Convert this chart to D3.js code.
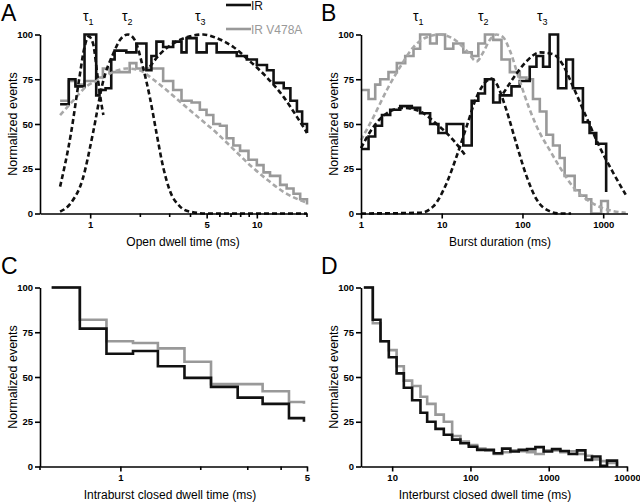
<!DOCTYPE html>
<html>
<head>
<meta charset="utf-8">
<script src="https://cdn.jsdelivr.net/npm/d3@7"></script>
<style>
body { margin: 0; background: #fff; }
svg { font-family: Arial, "Liberation Sans", Helvetica, sans-serif; }
.axis path, .axis line { stroke: #000; stroke-width: 1.6px; }
.axis text { font-size: 9.5px; font-weight: bold; fill: #000; }
</style>
</head>
<body>
<svg width="640" height="504"></svg>
<script>
var black = "#111", gray = "#999";

// ---- A : open dwell time ----
var aEdgesIR = [0.66,0.744,0.816,0.925,1.087,1.138,1.237,1.338,1.402,1.648,1.893,2.175,2.331,2.498,2.741,3.148,3.532,3.786,4.35,5.0,5.74,6.59,7.58,8.71,10,11.5,12.6,14.5,15.9,17.4,18.7,20,20];
var aValsIR  = [61,75,71,100,66,69,70,86,91,90,95,80,88,96,93,96,90,98,90,95,90,90,88,86,83,80,73,70,63,57,50,45];
var aEdgesV  = [0.66,0.744,0.816,0.925,1.087,1.192,1.307,1.726,1.893,2.277,2.741,3.148,3.532,4.06,4.55,4.99,5.48,6.01,6.59,7.23,7.93,8.91,10,10.97,12,13.8,15.1,16.6,18.2,20,20];
var aValsV   = [63,74,72,74,76,81,79,84,81,81,74,69,63,62,58,55,50,49,42,38,35,30,27,23,21,16,14,11,8,5];

var aTau1X = [0.66,0.768,0.862,0.925,0.98,1.04,1.11,1.16,1.2];
var aTau1Y = [15,45,76,93,99,95,76,63,55];
var aTau2X = [0.66,0.768,0.90,1.04,1.19,1.37,1.54,1.69,1.85,2.07,2.28,2.5,2.74,3.0,3.45,3.97,5,20];
var aTau2Y = [1,6,19,45,73,89,98,100,97,82,65,45,26,13,4,1,0,0];
var aTau3X = [2.28,2.62,3.15,3.97,4.77,5.74,7.23,9.1,11.5,14.5,17.4,20];
var aTau3Y = [82,89,95,99,100,98,93,85,76,65,54,45];
var aFitVX = [0.66,0.79,0.95,1.14,1.37,1.65,1.98,2.38,2.87,3.61,4.55,5.74,7.23,9.1,11.5,14.5,20];
var aFitVY = [55,63,71,75,79,81,80,75,69,61,53,45,36,27,19,12,6];

// ---- B : burst duration ----
var bEdgesIR = [1,1.24,1.5,1.82,2.3,3.06,4.26,5.4,7.18,9.1,11.5,13.9,18.5,23.5,28.4,34.3,43.4,52.5,73.1,92.7,123,149,180,217,276,349,422,561,678,820,1088,1088];
var bValsIR  = [36,43,49,55,58,60,59,56,50,45,50,50,38,63,67,75,62,66,71,74,82,88,82,100,70,86,70,51,45,39,12];
var bEdgesV  = [1,1.24,1.5,1.73,2.19,2.78,3.53,4.47,5.4,7.18,8.67,11,13.9,18.5,23.5,28.4,34.3,43.4,55,69.8,92.7,112,135,164,198,239,289,333,443,510,617,711,944,1142,1142];
var bValsV   = [69,64,72,75,79,84,88,92,100,95,100,92,95,90,88,95,100,97,86,79,76,75,64,57,44,38,31,21,13,10,8,0,7,0];

var bTau1X = [1,1.43,2.09,3.36,5.4,8.67,13.9,18.5,20];
var bTau1Y = [36.5,48.5,56,59,57,50,41,34,32];
var bTau2X = [1,5.4,7.87,11.5,15.3,20.3,27,35.9,41.3,47.5,63,84,112,149,217,289,400];
var bTau2Y = [0,0.4,4,17,32,48.5,65,74,75.4,72.6,58,39,21,8,1.3,0,0];
var bTau3X = [57.6,84,112,164,239,317,422,617,907,1320,1900];
var bTau3Y = [67,78,85,90,89,83,71,54,37,23,10.5];
var bFitVX = [1,1.43,2.09,3.06,4.47,6.5,9.53,13.9,20.3,27,32.6,39.4,47.5,57.6,69.8,92.7,123,164,217,289,422,617,990,1900];
var bFitVY = [41,54,69,82,93,98.5,100,97.6,91,85,90,97,100,98.5,91,74,58,45,35.5,26,15,8,3,0.4];

// ---- C : intraburst closed dwell time ----
var cEdges  = [0.553,0.705,0.887,1.115,1.382,1.738,2.185,2.75,3.41,4.28,4.87,4.87];
var cValsIR = [100,77,63,64.5,56,49.5,44.5,38.5,35,27,25];
var cValsV  = [100,82,70,69,66,58.5,46,46,42,36,35];

// ---- D : interburst closed dwell time ----
var dEdges  = [4.35,5.66,7.1,9.06,11.4,14.1,18,23,28,35.8,45.7,58.4,74.5,95.3,122,155,199,254,324,414,529,676,863,1103,1410,1800,2300,2940,3573,4570,5560,7450,7450];
var dValsIR = [100,82,70,61,52,44,37,30,25,21,17.7,15,13,11,9.3,9.3,7.4,10,8.4,9.3,9.7,10.8,8.4,9.7,8.7,7,9,3.7,5.6,0.4,3.3,0];
var dValsV  = [100,80,70,65,56,48,45,39,35,29,25,17,14,12,10,9,7,8,9,8.5,8,7,9,9,8,8.5,7,6,4,3,2,0];

var yTicks = [0, 25, 50, 75, 100];

var svg = d3.select("svg");

function stepPoints(edges, vals) {
  var pts = [[edges[0], vals[0]], [edges[1], vals[0]]];
  for (var i = 1; i < vals.length; i++) {
    pts.push([edges[i], vals[i]]);
    pts.push([edges[i + 1], vals[i]]);
  }
  return pts;
}

function zip(xs, ys) {
  return xs.map(function(d, i) { return [d, ys[i]]; });
}

function drawPanel(p) {
  var x = d3.scaleLog().domain(p.xDomain).range(p.xRange);
  var y = d3.scaleLinear().domain([0, 100]).range(p.yRange);
  var g = svg.append("g");

  var line = d3.line().x(function(d) { return x(d[0]); }).y(function(d) { return y(d[1]); });
  var smooth = d3.line().curve(d3.curveMonotoneX)
                 .x(function(d) { return x(d[0]); }).y(function(d) { return y(d[1]); });

  p.hists.forEach(function(h) {
    g.append("path")
     .attr("d", line(stepPoints(h.edges, h.vals)))
     .attr("fill", "none")
     .attr("stroke", h.color)
     .attr("stroke-width", 2.6)
     .attr("stroke-linejoin", "miter");
  });

  (p.fits || []).forEach(function(f) {
    g.append("path")
     .attr("d", smooth(zip(f.xs, f.ys)))
     .attr("fill", "none")
     .attr("stroke", f.color)
     .attr("stroke-width", 2.6)
     .attr("stroke-dasharray", "5,3");
  });

  g.append("g").attr("class", "axis")
   .attr("transform", "translate(" + p.xRange[0] + ",0)")
   .call(d3.axisLeft(y).tickValues(yTicks).tickSize(5).tickSizeOuter(0).tickPadding(2));

  var xg = g.append("g").attr("class", "axis")
   .attr("transform", "translate(0," + p.yRange[0] + ")")
   .call(d3.axisBottom(x).tickValues(p.major).tickFormat(d3.format("d"))
           .tickSize(5).tickSizeOuter(0).tickPadding(3));
  xg.selectAll(".minor").data(p.minor || []).enter().append("line")
    .attr("x1", function(d) { return x(d); }).attr("x2", function(d) { return x(d); })
    .attr("y1", 0).attr("y2", 3.5);

  g.append("text").attr("x", p.letterX).attr("y", p.yRange[1] - 14)
   .attr("font-size", 23).text(p.letter);

  g.append("text")
   .attr("transform", "translate(" + (p.xRange[0] - 23.5) + "," + ((p.yRange[0] + p.yRange[1]) / 2) + ") rotate(-90)")
   .attr("text-anchor", "middle").attr("font-size", 12.5).text("Normalized events");

  g.append("text").attr("x", p.titleX).attr("y", p.yRange[0] + 32)
   .attr("text-anchor", "middle").attr("font-size", 12).text(p.xTitle);

  (p.taus || []).forEach(function(t, i) {
    var tt = g.append("text").attr("x", t).attr("y", 21).attr("font-size", 14);
    tt.append("tspan").text("τ");
    tt.append("tspan").attr("dy", 4).attr("font-size", 9).text(String(i + 1));
  });
}

drawPanel({
  letter: "A", letterX: 1,
  xDomain: [0.5, 20], xRange: [40, 307], yRange: [213.5, 34.5],
  major: [1, 5, 10], minor: [2, 3, 4, 6, 7, 8, 9, 20],
  xTitle: "Open dwell time (ms)", titleX: 183,
  hists: [{edges: aEdgesV, vals: aValsV, color: gray}, {edges: aEdgesIR, vals: aValsIR, color: black}],
  fits: [{xs: aFitVX, ys: aFitVY, color: "#a8a8a8"},
         {xs: aTau1X, ys: aTau1Y, color: black},
         {xs: aTau2X, ys: aTau2Y, color: black},
         {xs: aTau3X, ys: aTau3Y, color: black}],
  taus: [83, 122, 195]
});

drawPanel({
  letter: "B", letterX: 321,
  xDomain: [1, 2000], xRange: [361, 627.5], yRange: [213.5, 34.5],
  major: [1, 10, 100, 1000],
  xTitle: "Burst duration (ms)", titleX: 500,
  hists: [{edges: bEdgesV, vals: bValsV, color: gray}, {edges: bEdgesIR, vals: bValsIR, color: black}],
  fits: [{xs: bFitVX, ys: bFitVY, color: "#a8a8a8"},
         {xs: bTau1X, ys: bTau1Y, color: black},
         {xs: bTau2X, ys: bTau2Y, color: black},
         {xs: bTau3X, ys: bTau3Y, color: black}],
  taus: [413, 478, 537]
});

drawPanel({
  letter: "C", letterX: 1,
  xDomain: [0.5, 5], xRange: [40, 307], yRange: [466.5, 287.5],
  major: [1, 5], minor: [0.5, 2, 3, 4],
  xTitle: "Intraburst closed dwell time (ms)", titleX: 170,
  hists: [{edges: cEdges, vals: cValsV, color: gray}, {edges: cEdges, vals: cValsIR, color: black}]
});

drawPanel({
  letter: "D", letterX: 321,
  xDomain: [4, 10000], xRange: [361, 627], yRange: [466.5, 287.5],
  major: [10, 100, 1000, 10000],
  xTitle: "Interburst closed dwell time (ms)", titleX: 485,
  hists: [{edges: dEdges, vals: dValsV, color: gray}, {edges: dEdges, vals: dValsIR, color: black}]
});

// legend
var leg = svg.append("g");
var legItems = [{label: "IR", color: black, y: 5}, {label: "IR V478A", color: gray, y: 29}];
leg.selectAll("line").data(legItems).enter().append("line")
   .attr("x1", 226).attr("x2", 251)
   .attr("y1", function(d) { return d.y; }).attr("y2", function(d) { return d.y; })
   .attr("stroke", function(d) { return d.color; }).attr("stroke-width", 2.6);
leg.selectAll("text").data(legItems).enter().append("text")
   .attr("x", 251).attr("y", function(d) { return d.y + 4.5; })
   .attr("font-size", 12).attr("fill", function(d) { return d.color; })
   .text(function(d) { return d.label; });
</script>
</body>
</html>
